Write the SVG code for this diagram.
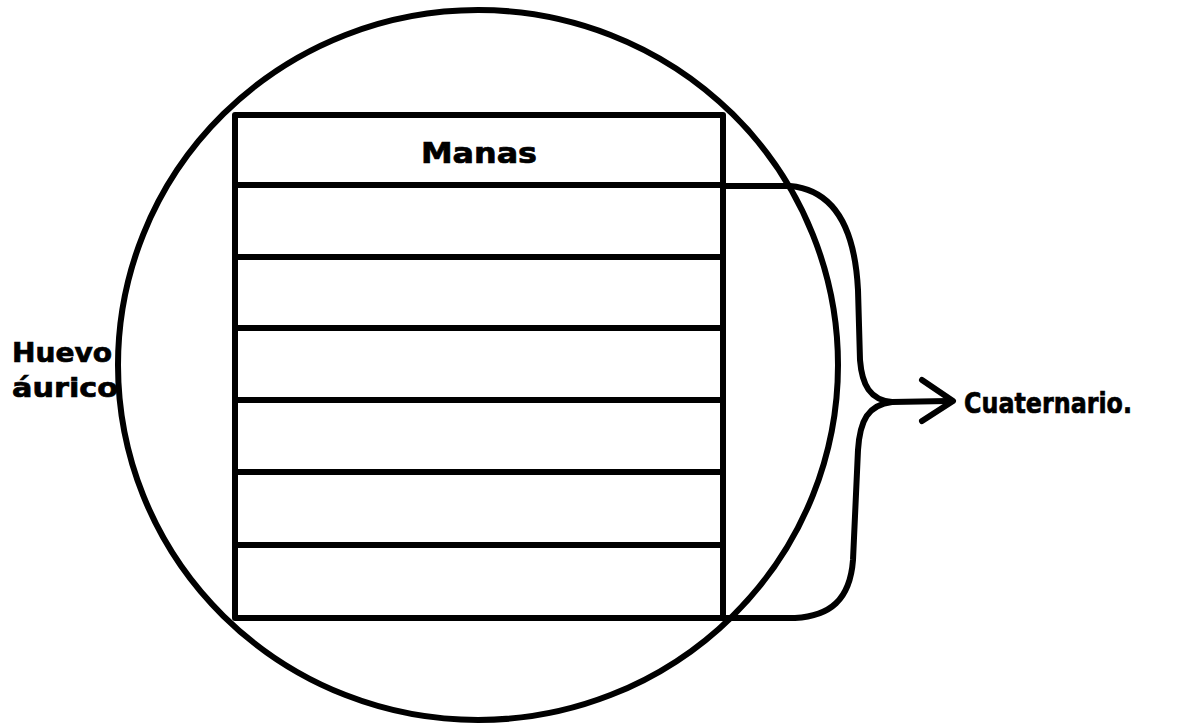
<svg xmlns="http://www.w3.org/2000/svg" width="1190" height="725" viewBox="0 0 1190 725">
<style>
.ln{fill:none;stroke:#000;stroke-width:6;stroke-linecap:round;stroke-linejoin:round}
.tx{font-family:"DejaVu Sans",sans-serif;font-weight:bold;fill:#000;stroke:#000;stroke-width:0.7}
</style>
<rect width="1190" height="725" fill="#fff"/>
<g id="egg">
<ellipse class="ln" cx="478" cy="365" rx="360" ry="355" stroke-width="6.5"/>
</g>
<g id="table">
<rect class="ln" x="235" y="115" width="488" height="503"/>
<line class="ln" x1="235" y1="185" x2="723" y2="185"/>
<line class="ln" x1="235" y1="257" x2="723" y2="257"/>
<line class="ln" x1="235" y1="328" x2="723" y2="328"/>
<line class="ln" x1="235" y1="400" x2="723" y2="400"/>
<line class="ln" x1="235" y1="472" x2="723" y2="472"/>
<line class="ln" x1="235" y1="545" x2="723" y2="545"/>
<text class="tx" x="479" y="163" font-size="28" text-anchor="middle" textLength="116" lengthAdjust="spacingAndGlyphs">Manas</text>
</g>
<g id="label-huevo">
<text class="tx" x="12" y="362" font-size="27" textLength="100" lengthAdjust="spacingAndGlyphs">Huevo</text>
<text class="tx" x="12" y="397" font-size="27" textLength="106" lengthAdjust="spacingAndGlyphs">áurico</text>
</g>
<g id="connectors">
<path class="ln" d="M723,186 L790,186 C835,190 855,230 858,290 L860,360 C862,385 870,400 892,402 L948,401"/>
<path class="ln" d="M892,402 C868,405 860,420 858,450 L853,560 C850,600 830,616 795,618 L723,618"/>
<polyline class="ln" points="922,380 953,401 922,421" stroke-width="8"/>
</g>
<g id="label-cuaternario">
<text class="tx" x="964" y="413" font-size="29" textLength="168" lengthAdjust="spacingAndGlyphs">Cuaternario.</text>
</g>
</svg>
